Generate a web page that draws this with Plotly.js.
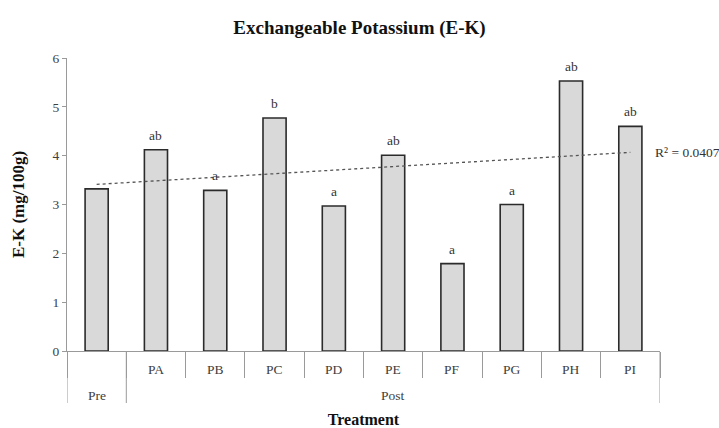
<!DOCTYPE html>
<html>
<head>
<meta charset="utf-8">
<script src="https://cdn.plot.ly/plotly-3.0.1.min.js"></script>
<style>html,body{margin:0;padding:0;background:#fff;}#chart{width:719px;height:428px;}</style>
</head>
<body>
<div id="chart"></div>
<script>
var groups = ["Pre","Post","Post","Post","Post","Post","Post","Post","Post","Post"];
var treatments = ["","PA","PB","PC","PD","PE","PF","PG","PH","PI"];
var categories = ["Pre","PA","PB","PC","PD","PE","PF","PG","PH","PI"];
var values = [3.32,4.12,3.29,4.77,2.97,4.01,1.79,3.00,5.53,4.60];
var letters = ["","ab","a","b","a","ab","a","a","ab","ab"];
var r2Label = "R² = 0.0407";

var n = values.length;
// linear trendline (least squares on category index 1..n)
var sx=0, sy=0, sxx=0, sxy=0;
for (var i=0;i<n;i++){var xi=i+1; sx+=xi; sy+=values[i]; sxx+=xi*xi; sxy+=xi*values[i];}
var slope = (n*sxy - sx*sy)/(n*sxx - sx*sx);
var icpt = (sy - slope*sx)/n;
var trendY = [icpt + slope*1, icpt + slope*n];

var font = "Liberation Serif, Times New Roman, serif";
var axisCol = '#9a9a9a';

var bars = {
  type:'bar', x:categories, y:values, width:0.39,
  marker:{color:'#d9d9d9', line:{color:'#2b2b2b', width:1.6}},
  hoverinfo:'skip'
};
var trend = {
  type:'scatter', mode:'lines',
  x:[categories[0], categories[n-1]], y:trendY,
  line:{color:'#555', width:1.3, dash:'dot'},
  hoverinfo:'skip'
};

var annotations = [], shapes = [];
// significance letters and treatment labels
for (var i=0;i<n;i++){
  if (letters[i]) annotations.push({xref:'x', yref:'y', x:i, y:values[i], yanchor:'bottom', yshift:5,
    text:letters[i], showarrow:false, font:{family:font, size:13.5, color:'#333'}});
  if (treatments[i]) annotations.push({xref:'x', yref:'paper', x:i, y:0, yanchor:'middle', yshift:-18,
    text:treatments[i], showarrow:false, font:{family:font, size:13.5, color:'#404040'}});
}
// group labels and dividers
var start = 0;
for (var i=1;i<=n;i++){
  if (i===n || groups[i]!==groups[start]){
    annotations.push({xref:'x', yref:'paper', x:(start+i-1)/2, y:0, yanchor:'middle', yshift:-44,
      text:groups[start], showarrow:false, font:{family:font, size:13.5, color:'#404040'}});
    shapes.push({type:'line', xref:'x', yref:'paper', ysizemode:'pixel', yanchor:0,
      x0:i-0.5, x1:i-0.5, y0:0, y1:-52, line:{color:axisCol, width:1}});
    if (start===0) shapes.push({type:'line', xref:'x', yref:'paper', ysizemode:'pixel', yanchor:0,
      x0:-0.5, x1:-0.5, y0:0, y1:-52, line:{color:axisCol, width:1}});
    start = i;
  }
}
annotations.push({xref:'paper', yref:'y', x:0.988, y:trendY[1], xanchor:'left', yanchor:'middle',
  text:r2Label, showarrow:false, font:{family:font, size:13.5, color:'#333'}});

var layout = {
  width:719, height:428,
  margin:{l:67, r:59, t:58, b:77},
  paper_bgcolor:'#fff', plot_bgcolor:'#fff',
  showlegend:false,
  font:{family:font, size:13.5, color:'#404040'},
  title:{text:'<b>Exchangeable Potassium (E-K)</b>', font:{family:font, size:19, color:'#111'},
    x:0.5, xanchor:'center', y:0.937, yanchor:'middle'},
  xaxis:{
    type:'category', range:[-0.5, n-0.5],
    showline:true, linecolor:axisCol, linewidth:1,
    ticks:'outside', tickson:'boundaries', ticklen:26, tickcolor:axisCol, tickwidth:1,
    showticklabels:false, showgrid:false, zeroline:false,
    title:{text:'<b>Treatment</b>', font:{family:font, size:16, color:'#111'}, standoff:64},
    automargin:false
  },
  yaxis:{
    range:[0,6], dtick:1,
    showline:true, linecolor:axisCol, linewidth:1,
    ticks:'outside', ticklen:4, tickcolor:axisCol,
    showgrid:false, zeroline:false,
    tickfont:{family:font, size:13.5, color:'#404040'},
    title:{text:'<b>E-K (mg/100g)</b>', font:{family:font, size:17, color:'#111'}, standoff:23},
    automargin:false
  },
  annotations:annotations,
  shapes:shapes
};
Plotly.newPlot('chart',[bars,trend],layout,{displayModeBar:false,staticPlot:true});
</script>
</body>
</html>
